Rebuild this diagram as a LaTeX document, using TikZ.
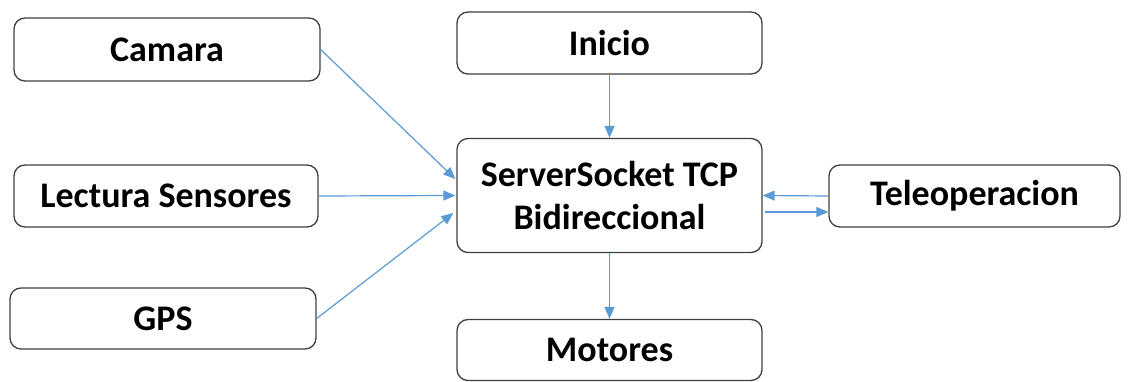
\documentclass[tikz,border=0pt]{standalone}
\usepackage{fontspec}
\setmainfont{Carlito}
\usetikzlibrary{arrows.meta}
\definecolor{arr}{RGB}{91,155,213}
\definecolor{edge}{RGB}{64,64,64}
\tikzset{
  box/.style={draw=edge, line width=1.3pt, rounded corners=11pt, fill=white,
    inner sep=0pt, align=center, font=\fontsize{36}{43}\selectfont\bfseries},
  conn/.style={draw=arr, line width=1.2pt, -{Triangle[length=12pt,width=10pt]}}
}
\begin{document}
\begin{tikzpicture}[x=1pt,y=1pt]
\useasboundingbox (0,0) rectangle (1135,381);
\node[box, minimum width=306pt, minimum height=63pt] (cam) at (167,331.5) {Camara};
\node[box, minimum width=304pt, minimum height=62pt] (lec) at (166,185) {Lectura Sensores};
\node[box, minimum width=306pt, minimum height=61pt] (gps) at (163,62.5) {GPS};
\node[box, minimum width=305pt, minimum height=62pt] (ini) at (609.5,338) {Inicio};
\node[box, minimum width=305pt, minimum height=114pt] (srv) at (609.5,185.5) {ServerSocket TCP\\Bidireccional};
\node[box, minimum width=305pt, minimum height=61pt] (mot) at (609.5,31) {Motores};
\node[box, minimum width=291pt, minimum height=62pt] (tel) at (974.5,185) {Teleoperacion};
\draw[conn] (cam.east) -- ([xshift=-1pt,yshift=16.5pt]srv.west);
\draw[conn] (lec.east) -- ([xshift=-1pt]srv.west);
\draw[conn] (gps.east) -- ([xshift=-3pt,yshift=-17.5pt]srv.west);
\draw[conn] (ini.south) -- (srv.north);
\draw[conn] (srv.south) -- (mot.north);
\draw[conn] (tel.west) -- (srv.east);
\draw[conn] ([xshift=2pt,yshift=-16.5pt]srv.east) -- ([yshift=-16pt]tel.west);
\end{tikzpicture}
\end{document}
